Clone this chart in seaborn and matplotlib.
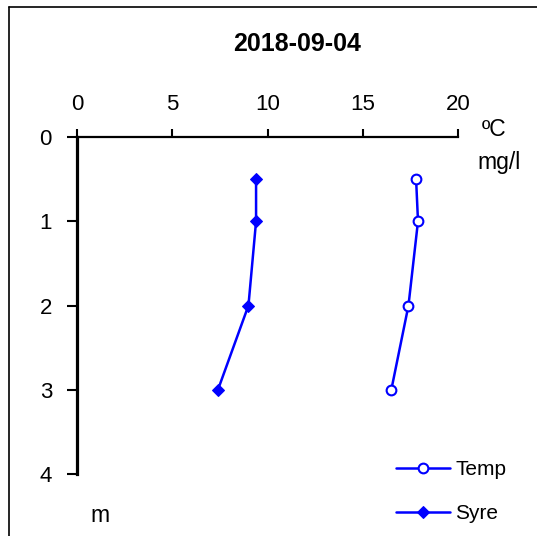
import matplotlib
matplotlib.use("Agg")
import matplotlib.pyplot as plt
import seaborn as sns
import pandas as pd
from matplotlib.lines import Line2D

depth = [0.5, 1, 2, 3]
temp = [17.8, 17.9, 17.4, 16.5]
syre = [9.4, 9.4, 9.0, 7.4]
x_ticks = [0, 5, 10, 15, 20]
y_ticks = [0, 1, 2, 3, 4]
title = "2018-09-04"

sns.set_style("white")
plt.rcParams['font.family'] = ['Liberation Sans', 'DejaVu Sans']
plt.rcParams['text.color'] = 'black'
plt.rcParams['xtick.color'] = 'black'
plt.rcParams['ytick.color'] = 'black'

fig = plt.figure(figsize=(5.37, 5.36), dpi=100)
ax = fig.add_axes([77/537, 1-474/536, (458-77)/537, (474-137)/536])

df_t = pd.DataFrame({"x": temp, "y": depth})
df_s = pd.DataFrame({"x": syre, "y": depth})
blue = "#0000FF"
sns.lineplot(data=df_t, x="x", y="y", sort=False, estimator=None, ax=ax, color=blue,
             lw=1.8, marker="o", markersize=7, markerfacecolor="white",
             markeredgecolor=blue, markeredgewidth=1.5, label="Temp")
sns.lineplot(data=df_s, x="x", y="y", sort=False, estimator=None, ax=ax, color=blue,
             lw=1.8, marker="D", markersize=6.5, markerfacecolor=blue,
             markeredgecolor=blue, label="Syre")

ax.set_xlim(0, 20)
ax.set_ylim(4, 0)
ax.set_xticks(x_ticks)
ax.set_yticks(y_ticks)
ax.xaxis.tick_top()
ax.set_xlabel("")
ax.set_ylabel("")
for s in ["right", "bottom"]:
    ax.spines[s].set_visible(False)
ax.spines["top"].set_linewidth(1.6)
ax.spines["left"].set_linewidth(2.3)
ax.spines["top"].set_color("black")
ax.spines["left"].set_color("black")
ax.tick_params(axis="x", top=True, bottom=False, direction="out", length=6, width=1.5,
               labelsize=16, pad=9.5, colors="black")
ax.tick_params(axis="y", left=True, direction="out", length=7, width=1.5,
               labelsize=16, pad=11, colors="black")
ax.set_facecolor("none")

if ax.get_legend():
    ax.get_legend().remove()
handles, labels = ax.get_legend_handles_labels()
fig.legend(handles, labels, loc="upper left", bbox_to_anchor=(396/537, 1-460/536),
           frameon=False, fontsize=15, handlelength=2.6, handletextpad=0.25,
           labelspacing=1.2, borderpad=0, borderaxespad=0)

fig.text(297/537, 1-44/536, title, ha="center", va="center", fontsize=18, fontweight="bold")
fig.text(494/537, 1-130/536, "ºC", ha="center", va="center", fontsize=16.5)
fig.text(499/537, 1-162/536, "mg/l", ha="center", va="center", fontsize=16.5)
fig.text(100/537, 1-516/536, "m", ha="center", va="center", fontsize=16.5)

fig.add_artist(Line2D([9/537, 9/537], [0, 1-7/536], transform=fig.transFigure, color="black", lw=1.2))
fig.add_artist(Line2D([9/537, 1], [1-7/536, 1-7/536], transform=fig.transFigure, color="black", lw=1.2))

fig.savefig("out.png", dpi=100)
